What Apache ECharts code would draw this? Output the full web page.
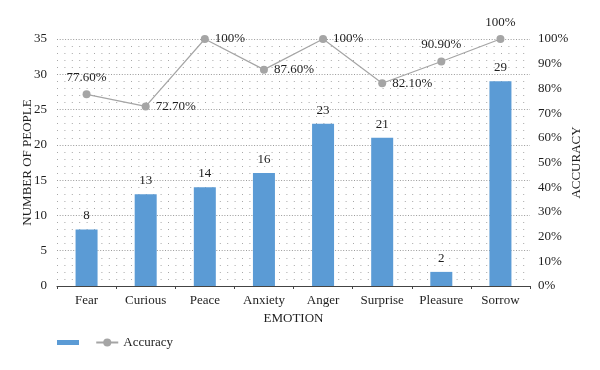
<!DOCTYPE html>
<html>
<head>
<meta charset="utf-8">
<script src="https://cdn.jsdelivr.net/npm/echarts@6/dist/echarts.min.js"></script>
<style>html,body{margin:0;padding:0;background:#fff}#c{width:600px;height:370px}</style>
</head>
<body>
<div id="c"></div>
<script>
const categories = ['Fear', 'Curious', 'Peace', 'Anxiety', 'Anger', 'Surprise', 'Pleasure', 'Sorrow'];
const people = [8, 13, 14, 16, 23, 21, 2, 29];
const accuracy = [77.6, 72.7, 100, 87.6, 100, 82.1, 90.9, 100];
const accuracyLabels = ['77.60%', '72.70%', '100%', '87.60%', '100%', '82.10%', '90.90%', '100%'];
const leftTicks = [0, 35, 5];
const rightTicks = [0, 100, 10];
const labelPos = ['top', 'right', 'right', 'right', 'right', 'right', 'top', 'top'];

const font = 'Liberation Serif';
const textColor = '#1e1e1e';
const chart = echarts.init(document.getElementById('c'), null, {renderer: 'canvas'});
chart.setOption({
  animation: false,
  textStyle: {fontFamily: font, color: textColor},
  grid: {left: 57, right: 70, top: 39, bottom: 84},
  legend: {
    left: 52, top: 331, itemWidth: 22, itemHeight: 10, itemGap: 8,
    textStyle: {fontFamily: font, fontSize: 13, color: textColor},
    data: [{name: ' ', icon: 'path://M0,0h22v5h-22z'}, {name: 'Accuracy'}]
  },
  xAxis: [{
    type: 'category', data: categories,
    name: 'EMOTION', nameLocation: 'middle', nameGap: 26, nameMoveOverlap: false,
    nameTextStyle: {fontFamily: font, fontSize: 13, color: textColor},
    axisLine: {lineStyle: {color: '#444'}},
    axisTick: {show: true, length: 3, lineStyle: {color: '#444'}},
    axisLabel: {fontFamily: font, fontSize: 13, color: textColor, margin: 8},
    splitLine: {show: false}
  }],
  yAxis: [{
    type: 'value', min: leftTicks[0], max: leftTicks[1], interval: leftTicks[2],
    name: 'NUMBER OF PEOPLE', nameLocation: 'middle', nameGap: 23, nameMoveOverlap: false,
    nameTextStyle: {fontFamily: font, fontSize: 13, color: textColor},
    axisLine: {show: false}, axisTick: {show: false},
    axisLabel: {fontFamily: font, fontSize: 13, color: textColor, margin: 10},
    splitLine: {show: true, lineStyle: {color: '#9a9a9a', width: 1, type: [1, 1.7]}},
    minorTick: {show: false, splitNumber: 5},
    minorSplitLine: {show: true, lineStyle: {color: '#a8a8a8', width: 1, type: [1, 6.4]}}
  }, {
    type: 'value', min: rightTicks[0], max: rightTicks[1], interval: rightTicks[2],
    name: 'ACCURACY', nameLocation: 'middle', nameGap: 40, nameMoveOverlap: false,
    nameTextStyle: {fontFamily: font, fontSize: 13, color: textColor},
    axisLine: {show: false}, axisTick: {show: false},
    axisLabel: {fontFamily: font, fontSize: 13, color: textColor, margin: 8, formatter: '{value}%'},
    splitLine: {show: false}
  }],
  series: [{
    name: ' ', type: 'bar', data: people, barWidth: 22,
    itemStyle: {color: '#5b9bd5'},
    label: {show: true, position: 'top', fontFamily: font, fontSize: 13, color: textColor, distance: 7}
  }, {
    name: 'Accuracy', type: 'line', yAxisIndex: 1,
    data: accuracy.map((v, i) => ({
      value: v,
      label: {position: labelPos[i], formatter: accuracyLabels[i]}
    })),
    symbol: 'circle', symbolSize: 8,
    lineStyle: {color: '#a5a5a5', width: 1.2},
    itemStyle: {color: '#a5a5a5'},
    label: {show: true, fontFamily: font, fontSize: 13, color: textColor, distance: 6}
  }]
});
</script>
</body>
</html>
